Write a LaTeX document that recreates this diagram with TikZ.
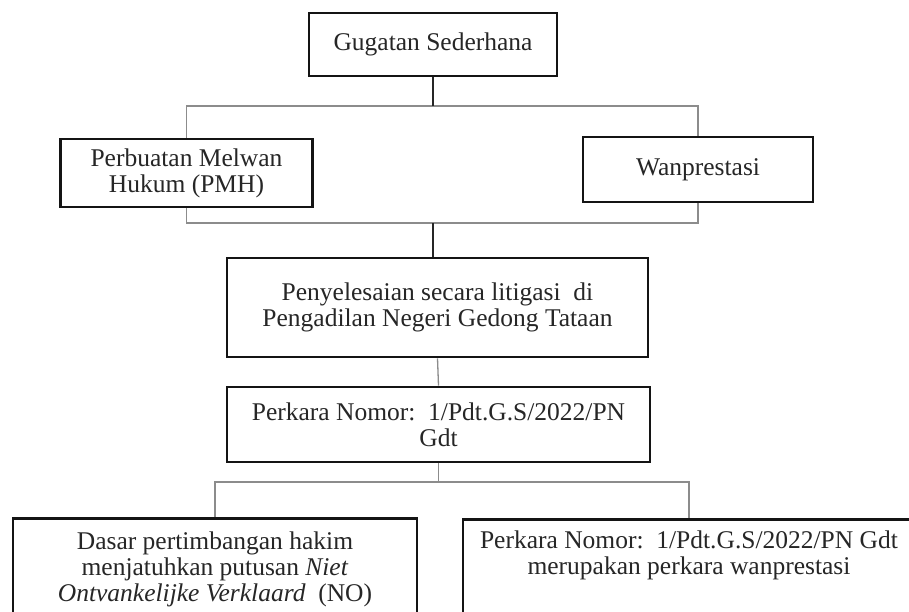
\documentclass[tikz,border=0pt]{standalone}
\usepackage{fontspec}
\setmainfont{Liberation Serif}
\begin{document}
\begin{tikzpicture}[x=1pt,y=-1pt,
  box/.style={draw=black!92, line width=2.7pt, inner sep=0pt, align=center,
    text=black!85, font=\fontsize{25.5}{26}\selectfont},
  conn/.style={draw=black!45, line width=1.3pt},
  connd/.style={draw=black!85, line width=1.5pt}]
\useasboundingbox (0,0) rectangle (909,612);
\clip (0,0) rectangle (909,612);
\fill[white] (0,0) rectangle (909,612);

\node[box, minimum width=248pt, minimum height=63pt] (G) at (433,44.5) {Gugatan Sederhana};
\node[box, minimum width=252pt, minimum height=68pt] (PMH) at (186.5,173) {Perbuatan Melwan\\Hukum (PMH)};
\node[box, minimum width=230pt, minimum height=65pt] (W) at (698,169.5) {Wanprestasi};
\node[box, minimum width=421pt, minimum height=99pt] (P) at (437.5,307.5) {Penyelesaian secara litigasi\ \ di\\Pengadilan Negeri Gedong Tataan};
\node[box, minimum width=423pt, minimum height=75pt] (K) at (438.5,424.5) {Perkara Nomor:\ \ 1/Pdt.G.S/2022/PN\\Gdt};
\node[box, anchor=north] (D) at (215,517) {\parbox[c][115pt][t]{404pt}{\centering\rule{0pt}{31pt}Dasar pertimbangan hakim\\menjatuhkan putusan \textit{Niet}\\\textit{Ontvankelijke Verklaard}\ \ (NO)}};
\node[box, anchor=north] (R) at (689,518) {\parbox[c][115pt][t]{452pt}{\centering\rule{0pt}{29pt}Perkara Nomor:\ \ 1/Pdt.G.S/2022/PN Gdt\\merupakan perkara wanprestasi}};

\coordinate (h1) at (433,106);
\coordinate (h2) at (433,223);
\coordinate (h3) at (438.5,482);

\draw[conn] (PMH.north) |- (h1) -| (W.north);
\draw[connd] (G.south) -- (h1);
\draw[conn] (PMH.south) |- (h2) -| (W.south);
\draw[connd] (h2) -- (h2 |- P.north);
\draw[conn] (P.south) -- (K.north);
\draw[conn] (D.north) |- (h3) -| (R.north);
\draw[conn] (K.south) -- (h3);
\end{tikzpicture}
\end{document}
